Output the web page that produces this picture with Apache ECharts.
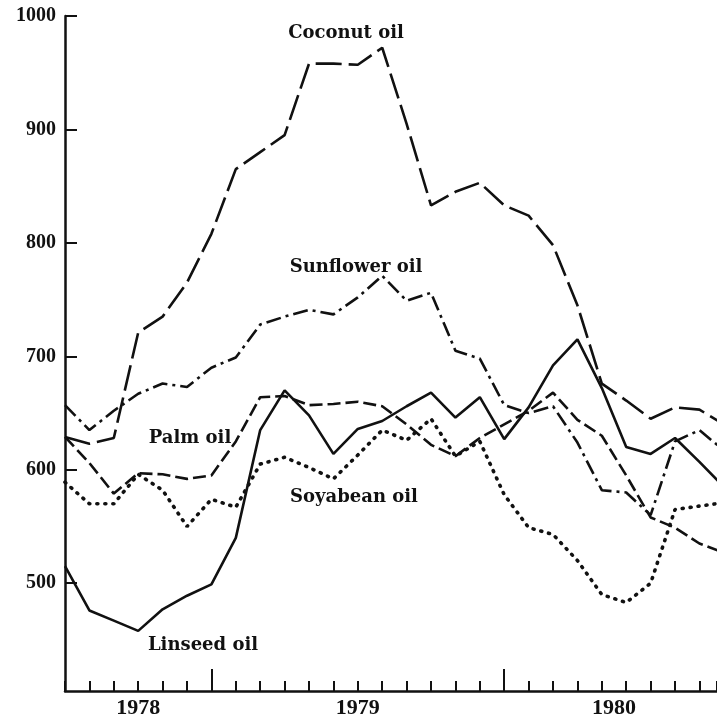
<!DOCTYPE html>
<html>
<head>
<meta charset="utf-8">
<script src="https://cdn.jsdelivr.net/npm/echarts@6/dist/echarts.min.js"></script>
<style>
  html, body { margin: 0; padding: 0; background: #ffffff; }
  #chart { width: 717px; height: 719px; }
</style>
</head>
<body>
<div id="chart"></div>
<script>
// Month index along the x axis (one step per month)
const months = [0, 1, 2, 3, 4, 5, 6, 7, 8, 9, 10, 11, 12, 13, 14, 15, 16, 17, 18, 19, 20, 21, 22, 23, 24, 25, 26, 27];

// Prices per month
const coconutOil   = [629, 623, 628, 721, 735, 765, 808, 865, 880, 895, 958, 958, 957, 972, 905, 833, 845, 853, 833, 824, 798, 745, 676, 661, 645, 655, 653, 640];
const sunflowerOil = [657, 635, 652, 667, 676, 673, 690, 699, 728, 735, 741, 737, 752, 771, 749, 756, 705, 698, 657, 650, 656, 624, 582, 580, 560, 625, 635, 617];
const palmOil      = [629, 606, 579, 597, 596, 592, 595, 625, 664, 665, 657, 658, 660, 656, 640, 622, 612, 628, 640, 652, 668, 644, 630, 595, 558, 549, 535, 527];
const soyabeanOil  = [589, 570, 570, 596, 582, 550, 574, 567, 605, 611, 602, 592, 613, 635, 626, 645, 612, 625, 578, 549, 543, 520, 490, 483, 500, 565, 568, 571];
const linseedOil   = [515, 476, 467, 458, 477, 489, 499, 540, 635, 670, 648, 614, 636, 643, 656, 668, 646, 664, 627, 655, 692, 715, 672, 620, 614, 628, 607, 585];

// Axis labelling
const yTickValues = [500, 600, 700, 800, 900, 1000];
const yearLabelPos = [3, 12, 22.5];
const yearLabels = ['1978', '1979', '1980'];
const midYearTicks = [6, 18];

const INK = '#111111';
const nameFont = 'bold 18px "DejaVu Serif", serif';

function pairs(values) {
  return months.map((m, i) => [m, values[i]]);
}

function lineSeries(name, values, style) {
  return {
    name: name,
    type: 'line',
    data: pairs(values),
    showSymbol: false,
    symbol: 'none',
    smooth: false,
    clip: true,
    lineStyle: Object.assign({ color: INK, width: 2.6 }, style),
    z: 3
  };
}

const chart = echarts.init(document.getElementById('chart'), null, { renderer: 'canvas' });

chart.setOption({
  animation: false,
  backgroundColor: '#ffffff',
  grid: { left: 65, right: 0, top: 16, bottom: 24, containLabel: false },
  xAxis: [
    {
      type: 'value',
      min: 0,
      max: 26.72,
      interval: 1,
      axisLine: { show: true, lineStyle: { color: INK, width: 2.5 } },
      axisTick: { show: true, inside: true, length: 10, lineStyle: { color: INK, width: 2 } },
      axisLabel: { show: false },
      splitLine: { show: false }
    },
    {
      type: 'value',
      position: 'bottom',
      min: 0,
      max: 26.72,
      axisLine: { show: false },
      axisTick: {
        show: true, inside: true, length: 22,
        customValues: midYearTicks,
        lineStyle: { color: INK, width: 2 }
      },
      axisLabel: {
        show: true,
        customValues: yearLabelPos,
        margin: 6,
        color: INK,
        fontFamily: '"Liberation Serif", serif',
        fontWeight: 'bold',
        fontSize: 22,
        formatter: function (v) {
          const i = yearLabelPos.indexOf(v);
          return i >= 0 ? yearLabels[i] : '';
        }
      },
      splitLine: { show: false }
    }
  ],
  yAxis: {
    type: 'value',
    min: 405,
    max: 1000,
    axisLine: { show: true, lineStyle: { color: INK, width: 2.5 } },
    axisTick: {
      show: true, inside: true, length: 12,
      customValues: yTickValues,
      lineStyle: { color: INK, width: 2 }
    },
    axisLabel: {
      show: true,
      customValues: yTickValues,
      margin: 9,
      color: INK,
      fontFamily: '"Liberation Serif", serif',
      fontWeight: 'bold',
      fontSize: 20,
      formatter: function (v) { return String(v); }
    },
    splitLine: { show: false }
  },
  series: [
    lineSeries('Coconut oil', coconutOil, { type: [26, 7] }),
    lineSeries('Sunflower oil', sunflowerOil, { type: [15, 5, 3, 5] }),
    lineSeries('Palm oil', palmOil, { type: [13, 5] }),
    lineSeries('Soyabean oil', soyabeanOil, { type: [1, 7], cap: 'round', width: 3.6 }),
    lineSeries('Linseed oil', linseedOil, { type: 'solid' })
  ],
  graphic: [
    { type: 'text', x: 346, y: 33, style: { text: 'Coconut oil', font: nameFont, fill: INK, align: 'center', verticalAlign: 'middle' } },
    { type: 'text', x: 356, y: 267, style: { text: 'Sunflower oil', font: nameFont, fill: INK, align: 'center', verticalAlign: 'middle' } },
    { type: 'text', x: 190, y: 438, style: { text: 'Palm oil', font: nameFont, fill: INK, align: 'center', verticalAlign: 'middle' } },
    { type: 'text', x: 354, y: 497, style: { text: 'Soyabean oil', font: nameFont, fill: INK, align: 'center', verticalAlign: 'middle' } },
    { type: 'text', x: 203, y: 645, style: { text: 'Linseed oil', font: nameFont, fill: INK, align: 'center', verticalAlign: 'middle' } }
  ]
});
</script>
</body>
</html>
